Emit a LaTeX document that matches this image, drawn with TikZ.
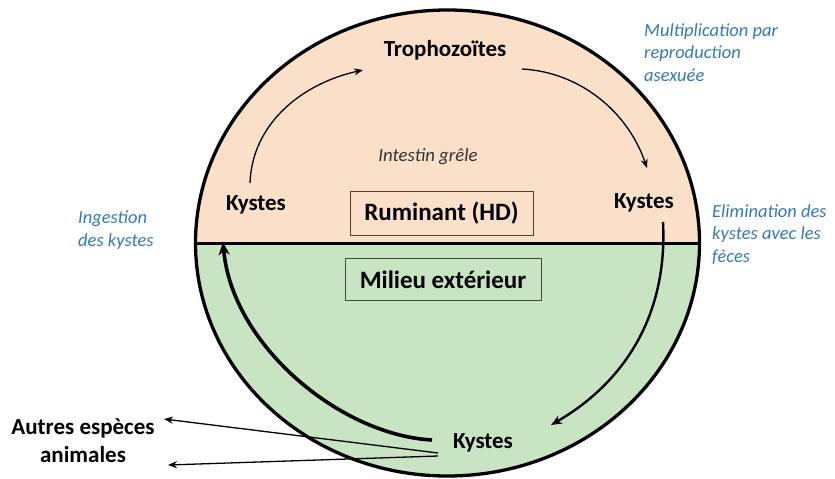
\documentclass[tikz,border=0pt]{standalone}
\usepackage{fontspec}
\setmainfont{Carlito}
\usetikzlibrary{arrows.meta}
\definecolor{peach}{RGB}{251,224,201}
\definecolor{leaf}{RGB}{200,228,195}
\definecolor{note}{RGB}{52,120,184}
\definecolor{italgray}{RGB}{50,50,50}
\begin{document}
\begin{tikzpicture}[x=1pt,y=-1pt,
  lbl/.style={font=\bfseries\fontsize{23}{25}\selectfont, inner sep=0pt},
  boxlbl/.style={font=\bfseries\fontsize{25}{27}\selectfont, draw, line width=0.8pt, inner xsep=8pt, inner ysep=6pt},
  noteb/.style={font=\itshape\fontsize{18.5}{22.5}\selectfont, text=note, align=left, inner sep=0pt},
  thin arrow/.style={line width=1.3pt, -{Stealth[length=9pt,width=7pt]}},
  mid arrow/.style={line width=2.4pt, -{Stealth[length=11pt,width=9pt]}},
  big arrow/.style={line width=3.6pt, -{Stealth[length=13pt,width=11pt]}},
]
\useasboundingbox (0,0) rectangle (835,479);

% host half and outside half of the disc
\begin{scope}
  \clip (0,0) rectangle (835,243);
  \fill[peach] (447.5,243) ellipse [x radius=252, y radius=233];
\end{scope}
\begin{scope}
  \clip (0,243) rectangle (835,479);
  \fill[leaf] (447.5,243) ellipse [x radius=252, y radius=233];
\end{scope}
\draw[line width=3.3pt] (447.5,243) ellipse [x radius=252, y radius=233];
\draw[line width=3pt] (196,243) -- (699,243);

% labels
\node[lbl] (troph) at (445,50) {Trophozoïtes};
\node[font=\itshape\fontsize{18.8}{21}\selectfont, text=italgray, inner sep=0pt] (intestin) at (428,157) {Intestin grêle};
\node[lbl] (kL) at (256,205) {Kystes};
\node[lbl] (kR) at (644,203) {Kystes};
\node[lbl] (kB) at (483,443) {Kystes};
\node[boxlbl, fill=peach, draw={rgb,255:red,90;green,60;blue,45}, minimum width=183pt, minimum height=44pt] (host) at (441.5,213.5) {Ruminant (HD)};
\node[boxlbl, fill=leaf, draw={rgb,255:red,60;green,75;blue,60}, minimum width=196pt, minimum height=42pt] (milieu) at (443,279.5) {Milieu extérieur};
\node[lbl, align=center, font=\bfseries\fontsize{23}{28}\selectfont] (autres) at (83,441) {Autres espèces\\animales};

% side notes
\node[noteb, anchor=north west] (multi) at (644,23) {Multiplication par\\reproduction\\asexuée};
\node[noteb, anchor=north west] (elim) at (712,204) {Elimination des\\kystes avec les\\fèces};
\node[noteb, anchor=north west] (ingest) at (78,211) {Ingestion\\des kystes};

% arrow end points
\coordinate (a1s) at (250,183);
\coordinate (a1e) at (363,70);
\coordinate (a2s) at (522,69);
\coordinate (a2e) at (647,168);
\coordinate (a3s) at (663,222);
\coordinate (a3e) at (551,425);
\coordinate (a4s) at (432,440);
\coordinate (a4e) at (223,242);
\coordinate (o1s) at (438,453);
\coordinate (o1e) at (164,419);
\coordinate (o2s) at (438,456);
\coordinate (o2e) at (168,465);

% cycle arrows
\draw[thin arrow] (a1s) .. controls (252,125) and (300,84) .. (a1e);
\draw[thin arrow] (a2s) .. controls (580,72) and (628,112) .. (a2e);
\draw[mid arrow] (a3s) .. controls (668,320) and (620,385) .. (a3e);
\draw[big arrow] (a4s) .. controls (340,435) and (232,345) .. (a4e);

% spread to other animals
\draw[thin arrow] (o1s) -- (o1e);
\draw[thin arrow] (o2s) -- (o2e);
\end{tikzpicture}
\end{document}
